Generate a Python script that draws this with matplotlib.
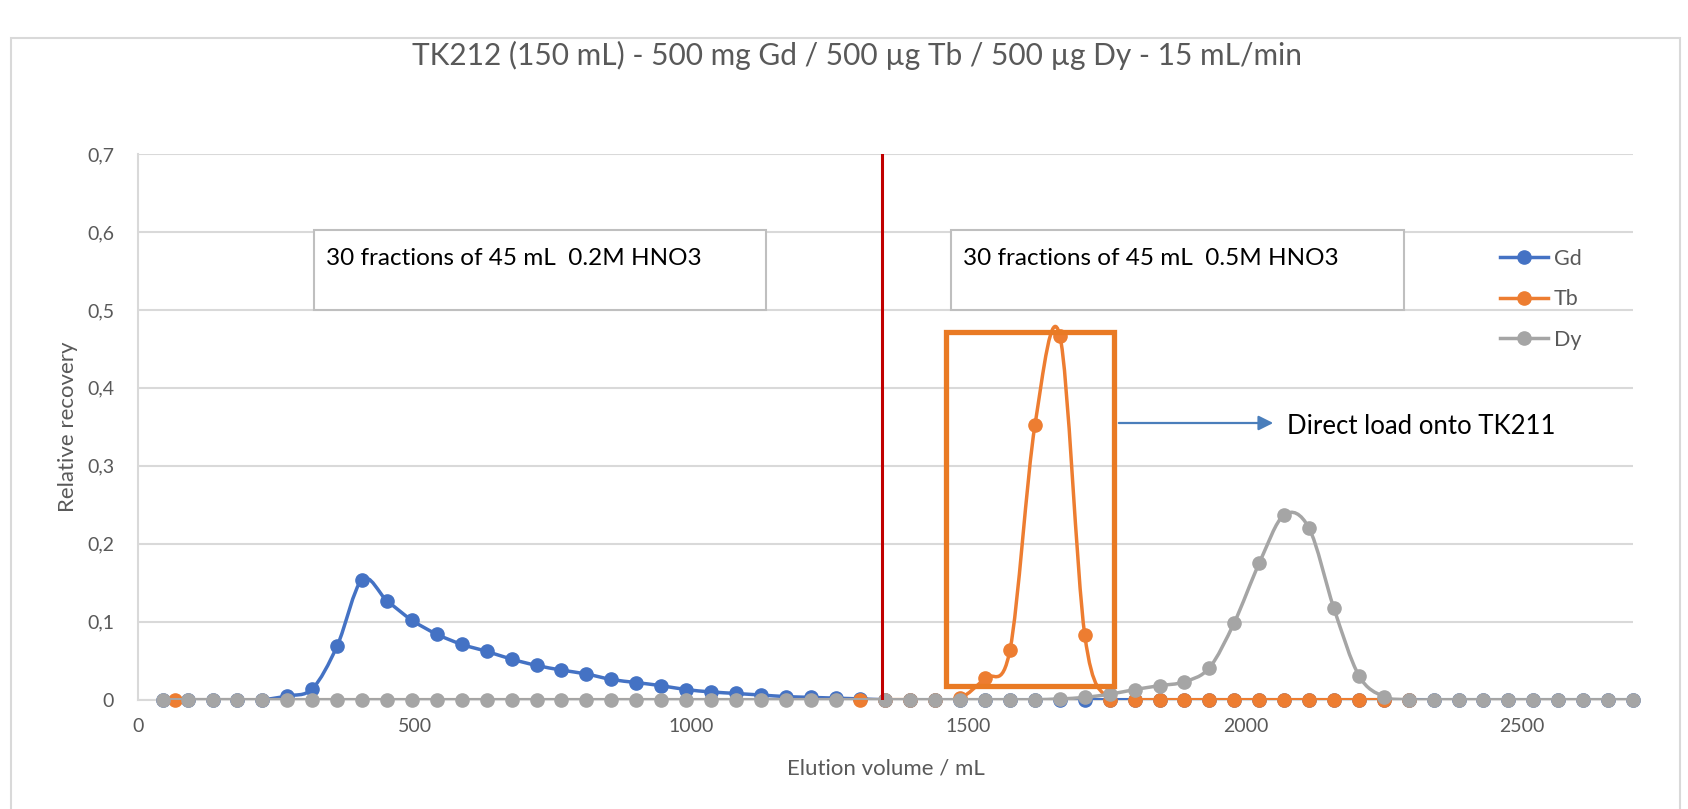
import numpy as np
import matplotlib.pyplot as plt
from matplotlib.path import Path
from matplotlib.patches import PathPatch, Rectangle
from matplotlib.lines import Line2D

plt.rcParams['font.family'] = ['Lato', 'DejaVu Sans']

# --- data (elution volume in mL, relative recovery) ---
gd_x = [45, 90, 135, 180, 225, 270, 315, 360, 405, 450, 495, 540, 585, 630, 675,
        720, 765, 810, 855, 900, 945, 990, 1035, 1080, 1125, 1170, 1215, 1260, 1305, 1350,
        1395, 1440, 1485, 1530, 1575, 1620, 1665, 1710, 1755, 1800, 1845, 1890, 1935, 1980, 2025,
        2070, 2115, 2160, 2205, 2250, 2295, 2340, 2385, 2430, 2475, 2520, 2565, 2610, 2655, 2700]
gd_y = [0, 0, 0, 0, 0, 0.005, 0.014, 0.069, 0.154, 0.127, 0.102, 0.084, 0.071, 0.062, 0.052,
        0.044, 0.038, 0.033, 0.026, 0.022, 0.018, 0.013, 0.010, 0.008, 0.006, 0.004, 0.003, 0.002, 0.001, 0,
        0, 0, 0, 0, 0, 0, 0, 0, 0, 0, 0, 0, 0, 0, 0,
        0, 0, 0, 0, 0, 0, 0, 0, 0, 0, 0, 0, 0, 0, 0]

tb_x = [67.5, 1305, 1350, 1395, 1440, 1485, 1530, 1575, 1620, 1665, 1710,
        1755, 1800, 1845, 1890, 1935, 1980, 2025, 2070, 2115, 2160, 2205, 2250, 2295]
tb_y = [0, 0, 0, 0, 0, 0.002, 0.028, 0.064, 0.352, 0.467, 0.083,
        0, 0, 0, 0, 0, 0, 0, 0, 0, 0, 0, 0, 0]

dy_x = [45, 90, 135, 180, 225, 270, 315, 360, 405, 450, 495, 540, 585, 630, 675,
        720, 765, 810, 855, 900, 945, 990, 1035, 1080, 1125, 1170, 1215, 1260, 1350,
        1395, 1440, 1485, 1530, 1575, 1620, 1665, 1710, 1755, 1800, 1845, 1890, 1935, 1980, 2025,
        2070, 2115, 2160, 2205, 2250, 2295, 2340, 2385, 2430, 2475, 2520, 2565, 2610, 2655, 2700]
dy_y = [0, 0, 0, 0, 0, 0, 0, 0, 0, 0, 0, 0, 0, 0, 0,
        0, 0, 0, 0, 0, 0, 0, 0, 0, 0, 0, 0, 0, 0,
        0, 0, 0, 0, 0, 0, 0.001, 0.003, 0.007, 0.013, 0.018, 0.023, 0.041, 0.099, 0.175,
        0.237, 0.220, 0.117, 0.031, 0.004, 0, 0, 0, 0, 0, 0, 0, 0, 0, 0]

series = [('Gd', gd_x, gd_y, '#4472C4'),
          ('Tb', tb_x, tb_y, '#ED7D31'),
          ('Dy', dy_x, dy_y, '#A5A5A5')]

x_ticks = [0, 500, 1000, 1500, 2000, 2500]
y_ticks = [0, 0.1, 0.2, 0.3, 0.4, 0.5, 0.6, 0.7]
y_tick_labels = ['0', '0,1', '0,2', '0,3', '0,4', '0,5', '0,6', '0,7']

split_volume = 1344          # switch from 0.2M to 0.5M HNO3
cut_box = (1460, 0.018, 1763, 0.472)   # Tb fraction sent to TK211

title = 'TK212 (150 mL) - 500 mg Gd / 500 µg Tb / 500 µg Dy - 15 mL/min'
box_texts = ['30 fractions of 45 mL  0.2M HNO3', '30 fractions of 45 mL  0.5M HNO3']
box_spans = [(318, 1134), (1468, 2286)]


def smooth_path(xs, ys):
    # Excel-like smoothed line (Catmull-Rom as cubic Bezier)
    p = np.column_stack([xs, ys]).astype(float)
    verts = [p[0]]
    codes = [Path.MOVETO]
    n = len(p)
    for i in range(n - 1):
        p0 = p[i - 1] if i > 0 else p[i]
        p3 = p[i + 2] if i + 2 < n else p[i + 1]
        c1 = p[i] + (p[i + 1] - p0) / 6
        c2 = p[i + 1] - (p3 - p[i]) / 6
        verts += [c1, c2, p[i + 1]]
        codes += [Path.CURVE4] * 3
    return Path(verts, codes)


W, H = 1688, 809
fig = plt.figure(figsize=(W / 100, H / 100), dpi=100)
ax = fig.add_axes([137.8 / W, 1 - 699.7 / H, (1633 - 137.8) / W, (699.7 - 154) / H])

grey = '#595959'
ax.set_xlim(0, 2700)
ax.set_ylim(0, 0.7)
ax.set_yticks(y_ticks)
ax.set_yticklabels(y_tick_labels)
ax.set_xticks(x_ticks)
ax.tick_params(length=0, labelsize=14, labelcolor=grey)
ax.tick_params(axis='y', pad=17)
ax.tick_params(axis='x', pad=13)
ax.grid(axis='y', color='#D9D9D9', lw=1.5)
ax.set_axisbelow(True)
for s in ['top', 'right']:
    ax.spines[s].set_visible(False)
for s in ['left', 'bottom']:
    ax.spines[s].set_color('#D9D9D9')
    ax.spines[s].set_linewidth(1.5)

ax.set_xlabel('Elution volume / mL', fontsize=16, color=grey)
ax.set_ylabel('Relative recovery', fontsize=16, color=grey)
ax.xaxis.set_label_coords(0.5, -0.108)
ax.yaxis.set_label_coords(-0.040, 0.5)

handles = []
for k, (name, xs, ys, col) in enumerate(series):
    ax.add_patch(PathPatch(smooth_path(xs, ys), fill=False, edgecolor=col, lw=2.5,
                           zorder=3 + k, capstyle='round'))
    ax.plot(xs, ys, 'o', color=col, ms=9.5, mec=col, zorder=3.5 + k, clip_on=False)
    handles.append(Line2D([], [], color=col, lw=2.5, marker='o', ms=9.5))

# solvent switch line
ax.plot([split_volume, split_volume], [0, 0.7], color='#C00000', lw=2.2, zorder=7)

# text boxes
for (x0, x1), txt in zip(box_spans, box_texts):
    ax.add_patch(Rectangle((x0, 0.5), x1 - x0, 0.103, facecolor='white',
                           edgecolor='#BFBFBF', lw=1.5, zorder=2))
    ax.text(x0 + 22, 0.566, txt, fontsize=17.5, color='black', va='center', zorder=2.5)

# highlighted Tb fraction
ax.add_patch(Rectangle((cut_box[0], cut_box[1]), cut_box[2] - cut_box[0], cut_box[3] - cut_box[1],
                       fill=False, edgecolor='#E97A24', lw=3.8, zorder=8))
ax.annotate('', xy=(1276, H - 423), xytext=(1116, H - 423), xycoords='figure pixels',
            textcoords='figure pixels',
            arrowprops=dict(arrowstyle='-|>', color='#4A7EBB', lw=1.6, mutation_scale=22))
fig.text(1287 / W, 1 - 427 / H, 'Direct load onto TK211', fontsize=18.5, color='black',
         va='center', ha='left')

ax.legend(handles, [s[0] for s in series], loc='upper left',
          bbox_to_anchor=(1500 / W, 1 - 249 / H), bbox_transform=fig.transFigure,
          frameon=False, fontsize=15.5, labelcolor=grey, handlelength=2.25,
          handletextpad=0.25, labelspacing=0.95, borderpad=0, borderaxespad=0)

fig.text(857 / W, 1 - 55 / H, title, fontsize=21.5, color=grey, ha='center', va='center')

# chart area border
fig.patches.append(Rectangle((11 / W, -0.05), 1669 / W, 1.05 - 37.7 / H, transform=fig.transFigure,
                             fill=False, edgecolor='#D9D9D9', lw=1.5))

fig.savefig('out.png', dpi=100)
